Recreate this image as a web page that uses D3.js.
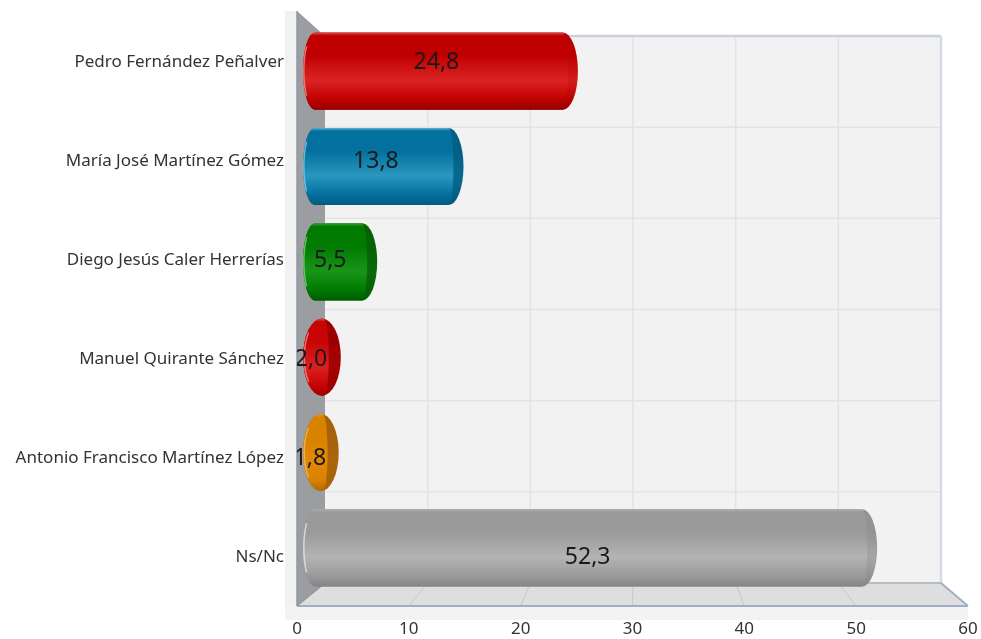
<!DOCTYPE html>
<html><head><meta charset="utf-8"><style>html,body{margin:0;background:#fff}svg{display:block;filter:blur(0.45px)}</style>
<script src="https://cdn.jsdelivr.net/npm/d3@7"></script></head><body><div id="c"></div>
<script>
const categories=["Pedro Fernández Peñalver","María José Martínez Gómez","Diego Jesús Caler Herrerías","Manuel Quirante Sánchez","Antonio Francisco Martínez López","Ns/Nc"];
const values=[24.8,13.8,5.5,2.0,1.8,52.3];
const valueLabels=["24,8","13,8","5,5","2,0","1,8","52,3"];
const tickValues=[0,10,20,30,40,50,60];
const palettes=[
 {top:"#d85050",base:"#c00000",mid:"#dc2424",dark:"#960000",cap:"#bc0000",capMid:"#d21c1c",edge:"#f0a0a0"},
 {top:"#5fb4d6",base:"#03709f",mid:"#2a97bf",dark:"#035a80",cap:"#045f86",capMid:"#0a688f",edge:"#8fd4ec"},
 {top:"#40a040",base:"#007a00",mid:"#1a951a",dark:"#005c00",cap:"#056305",capMid:"#0a6a0a",edge:"#90d890"},
 {top:"#e05050",base:"#c80404",mid:"#dc2020",dark:"#a00000",cap:"#9c0000",capMid:"#a40404",edge:"#f0a0a0"},
 {top:"#e8a030",base:"#d88200",mid:"#e08a08",dark:"#b06a00",cap:"#a56208",capMid:"#aa6608",edge:"#f0c070"},
 {top:"#adadad",base:"#9a9a9a",mid:"#b4b4b4",dark:"#858585",cap:"#939393",capMid:"#a6a6a6",edge:"#ececec"}];
const W=981,H=639;
const svg=d3.select("#c").append("svg").attr("width",W).attr("height",H);
const defs=svg.append("defs");
const xFront=d3.scaleLinear().domain([0,60]).range([297,968]);
const xBack=d3.scaleLinear().domain([0,60]).range([325,941]);
const yGrid=d3.scaleLinear().domain([0,6]).range([36,583]);
const yBar=d3.scaleBand().domain(categories).range([23.5,595.5]).paddingInner(0.19).paddingOuter(0.095);
const xBarEnd=d3.scaleLinear().domain([0,25,60]).range([320,580,961]);
const xLabel=d3.scaleLinear().domain([0,60]).range([300,630]);
const yLabel=d3.scalePoint().domain(categories).range([61,556]);
const frontY=606,frontTop=11;
const font="'Noto Sans',sans-serif";

svg.append("rect").attr("x",285).attr("y",frontTop).attr("width",12).attr("height",frontY-frontTop+3).attr("fill","#f1f1f1");
svg.append("rect").attr("x",285).attr("y",frontY).attr("width",683).attr("height",14).attr("fill","#f3f3f3");
svg.append("rect").attr("x",xBack(0)).attr("y",yGrid(0)).attr("width",xBack(60)-xBack(0)).attr("height",yGrid(6)-yGrid(0)).attr("fill","#f2f2f2");
const gridC="#e1e3e6";
svg.append("g").selectAll("line").data(d3.range(0,7)).join("line")
 .attr("x1",xBack(0)).attr("x2",xBack(60)).attr("y1",d=>yGrid(d)).attr("y2",d=>yGrid(d)).attr("stroke",gridC).attr("stroke-width",1.5);
svg.append("g").selectAll("line").data(tickValues.slice(1)).join("line")
 .attr("x1",d=>xBack(d)).attr("x2",d=>xBack(d)).attr("y1",yGrid(0)).attr("y2",yGrid(6)).attr("stroke",gridC).attr("stroke-width",1.5);
svg.append("line").attr("x1",xBack(0)).attr("x2",xBack(60)).attr("y1",yGrid(0)).attr("y2",yGrid(0)).attr("stroke","#c9d1db").attr("stroke-width",2.5);
svg.append("line").attr("x1",xBack(60)).attr("x2",xBack(60)).attr("y1",yGrid(0)).attr("y2",yGrid(6)).attr("stroke","#d5dbe2").attr("stroke-width",2.5);
const floorPts=[[xBack(0),yGrid(6)],[xBack(60),yGrid(6)],[xFront(60),frontY],[xFront(0),frontY]];
svg.append("polygon").attr("points",floorPts.join(" ")).attr("fill","#dedede");
svg.append("g").selectAll("line").data(tickValues.slice(1,-1)).join("line")
 .attr("x1",d=>xBack(d)).attr("x2",d=>xFront(d)).attr("y1",yGrid(6)).attr("y2",frontY).attr("stroke","#c4c8cc").attr("stroke-width",1);
svg.append("line").attr("x1",xBack(0)).attr("x2",xBack(60)).attr("y1",yGrid(6)).attr("y2",yGrid(6)).attr("stroke","#b5bcc6").attr("stroke-width",2);
svg.append("line").attr("x1",xBack(60)).attr("x2",xFront(60)).attr("y1",yGrid(6)).attr("y2",frontY).attr("stroke","#9fb0c4").attr("stroke-width",2);
svg.append("line").attr("x1",xFront(0)).attr("x2",xFront(60)).attr("y1",frontY).attr("y2",frontY).attr("stroke","#9fb0c6").attr("stroke-width",2);
svg.append("polygon").attr("points",[[xFront(0),frontTop],[xBack(0),yGrid(0)],[xBack(0),yGrid(6)],[xFront(0),frontY]].join(" ")).attr("fill","#9b9da0");
svg.append("line").attr("x1",xFront(0)).attr("x2",xFront(0)).attr("y1",frontTop).attr("y2",frontY).attr("stroke","#8d99a8").attr("stroke-width",1.5);
svg.append("line").attr("x1",xBack(0)).attr("x2",xFront(0)).attr("y1",yGrid(6)).attr("y2",frontY).attr("stroke","#8d99a8").attr("stroke-width",1.2);

const x0=303,rL=12,rR=15;
categories.forEach((c,i)=>{
 const p=palettes[i];
 const g=defs.append("linearGradient").attr("id","g"+i).attr("x1",0).attr("x2",0).attr("y1",0).attr("y2",1);
 [[0,p.top],[.04,p.base],[.3,p.base],[.62,p.mid],[.86,p.base],[1,p.dark]].forEach(s=>g.append("stop").attr("offset",s[0]).attr("stop-color",s[1]));
 const cg=defs.append("linearGradient").attr("id","c"+i).attr("x1",0).attr("x2",0).attr("y1",0).attr("y2",1);
 [[0,p.cap],[.3,p.cap],[.62,p.capMid],[.86,p.cap],[1,p.dark]].forEach(s=>cg.append("stop").attr("offset",s[0]).attr("stop-color",s[1]));
});
const bars=svg.append("g").selectAll("g").data(categories).join("g");
function outline(xa,xb,y,h,ra,rb){
 return `M${xa+ra},${y}L${xb-rb},${y}A${rb},${h/2} 0 0 1 ${xb-rb},${y+h}L${xa+ra},${y+h}A${ra},${h/2} 0 0 1 ${xa+ra},${y}Z`;
}
bars.each(function(c,i){
 const s=d3.select(this),y=yBar(c),h=yBar.bandwidth(),xe=xBarEnd(values[i]);
 const half=(xe-x0)/2, small=half<22;
 const r=small?half:rR, ra=small?half:rL;
 s.append("path").attr("d",outline(x0,xe,y,h,ra,r)).attr("fill",`url(#c${i})`);
 const seam=small?xe-half*0.9:xe-r;
 s.append("path").attr("d",outline(x0,seam+5,y,h,ra,5)).attr("fill",`url(#g${i})`);
 s.append("path").attr("d",`M${x0+ra*0.3},${y+h*0.18}A${ra},${h/2} 0 0 0 ${x0+ra*0.3},${y+h*0.82}`).attr("fill","none").attr("stroke",palettes[i].edge).attr("stroke-width",1.5).attr("opacity",.7);
});
defs.append("clipPath").attr("id","lc").append("rect").attr("x",297).attr("y",0).attr("width",684).attr("height",639);
svg.append("g").attr("clip-path","url(#lc)").selectAll("text").data(categories).join("text")
 .attr("x",(c,i)=>xLabel(values[i])).attr("y",c=>yLabel(c)).attr("dy","0.35em").attr("text-anchor","middle")
 .attr("font-family",font).attr("font-size",23).attr("fill","#1a1a1a").text((c,i)=>valueLabels[i]);
svg.append("g").selectAll("text").data(categories).join("text")
 .attr("x",284).attr("y",c=>yLabel(c)).attr("dy","0.35em").attr("text-anchor","end")
 .attr("font-family",font).attr("font-size",17).attr("fill","#333").text(c=>c);
svg.append("g").selectAll("text").data(tickValues).join("text")
 .attr("x",d=>xFront(d)).attr("y",628).attr("dy","0.35em").attr("text-anchor","middle")
 .attr("font-family",font).attr("font-size",17).attr("fill","#333").text(d=>d);
</script></body></html>
